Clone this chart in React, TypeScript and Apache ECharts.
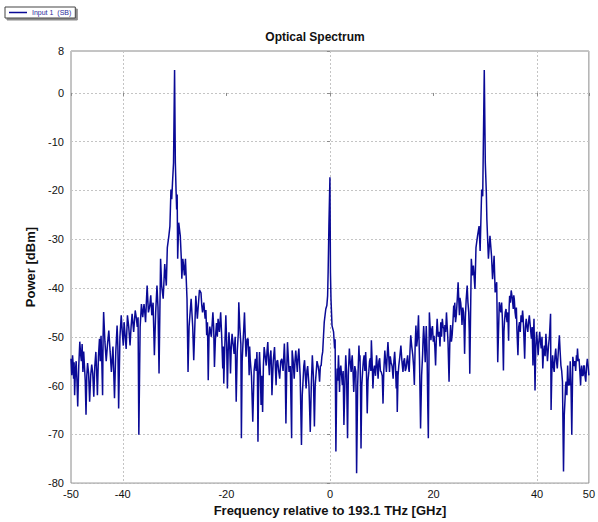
import React, { useEffect, useRef } from "react";
import * as echarts from "echarts";

// Frequency [GHz] relative to 193.1 THz, power [dBm]
const segFarLeft: [number, number][] = [
  [-50, -54.5], [-49.85, -57.9], [-49.7, -53.8], [-49.6, -55.4], [-49.5, -58.6], [-49.4, -55.2],
  [-49.3, -62], [-49.15, -57], [-49, -55], [-48.85, -59], [-48.7, -64.3], [-48.5, -56],
  [-48.3, -51], [-48.15, -53.5], [-48, -55], [-47.85, -51.5], [-47.7, -57.2], [-47.55, -53],
  [-47.4, -56], [-47.25, -59], [-47.1, -66], [-46.95, -58], [-46.8, -55.4], [-46.6, -57.5],
  [-46.4, -63.3], [-46.2, -58], [-46, -55.7], [-45.8, -57.5], [-45.6, -62.3], [-45.4, -56],
  [-45.2, -53.1], [-45.05, -57], [-44.9, -62], [-44.7, -54], [-44.5, -50.4], [-44.35, -55],
  [-44.2, -49.8], [-44.05, -55], [-43.9, -62], [-43.8, -50], [-43.7, -44.9], [-43.45, -51],
  [-43.2, -55], [-42.95, -51.5], [-42.7, -48.7], [-42.45, -53], [-42.2, -57.2], [-41.9, -52],
  [-41.6, -62.6], [-41.35, -53], [-41.1, -47.7], [-40.95, -52], [-40.8, -64.7], [-40.55, -50],
  [-40.3, -45.6], [-40.1, -49], [-39.9, -51.8], [-39.75, -47], [-39.6, -49], [-39.35, -52.5],
  [-39.1, -45.6], [-38.85, -48], [-38.6, -51.8], [-38.4, -48], [-38.2, -45.3], [-37.9, -49],
  [-37.6, -44.6], [-37.4, -46], [-37.2, -48], [-37.05, -46], [-36.9, -70.1], [-36.65, -48],
  [-36.4, -43.3], [-36.15, -46], [-35.9, -43.3], [-35.75, -45], [-35.6, -47], [-35.45, -43],
  [-35.3, -39.5], [-35.05, -45], [-34.8, -43.7], [-34.6, -41.5], [-34.4, -45.6], [-34.15, -43],
  [-33.9, -53.8], [-33.65, -45], [-33.4, -39.5], [-33.2, -44], [-33.0, -57.5],
];

const segLeftPeak: [number, number][] = [
  [-32.7, -34], [-32.5, -39.5], [-32.2, -42.2], [-31.9, -35.1], [-31.6, -39.5], [-31.4, -31.7],
  [-31.1, -29.3], [-30.9, -27.3], [-30.7, -19.8], [-30.55, -21.8], [-30.4, -18.4], [-30.2, -14.3],
  [-30.0, 4.7], [-29.85, -14.3], [-29.7, -20.5], [-29.6, -23.9], [-29.5, -20.8], [-29.4, -34],
  [-29.2, -26.6], [-28.9, -29.3], [-28.7, -34], [-28.6, -38.1], [-28.4, -34], [-28.1, -37.4],
  [-27.9, -34], [-27.6, -42.2], [-27.4, -57.2], [-27.2, -47.9], [-26.8, -42.2], [-26.5, -47.9],
  [-26.3, -54.8], [-25.9, -41.6], [-25.6, -46.3], [-25.2, -40.4], [-24.9, -41], [-24.75, -43.5],
  [-24.6, -45], [-24.35, -43], [-24.1, -46.3], [-23.95, -44.5], [-23.8, -49.7], [-23.65, -47],
  [-23.5, -58.9], [-23.35, -50], [-23.2, -47.9], [-22.9, -50], [-22.6, -45], [-22.45, -48],
  [-22.3, -56.2], [-22.1, -50], [-21.9, -47.2], [-21.75, -50], [-21.6, -46.3], [-21.35, -49],
  [-21.1, -45], [-20.9, -50], [-20.7, -56.5], [-20.6, -52], [-20.5, -59.6], [-20.3, -52],
  [-20.1, -45.6], [-19.95, -51], [-19.8, -60.6], [-19.65, -53], [-19.5, -49.1], [-19.35, -52],
  [-19.2, -57.5], [-19.05, -52], [-18.9, -49.4], [-18.7, -51.5], [-18.5, -53.5], [-18.3, -50],
  [-18.1, -63.3], [-17.9, -53], [-17.7, -49.4], [-17.6, -42.9], [-17.4, -48], [-17.2, -51.5],
  [-17.1, -70.8], [-16.95, -55], [-16.8, -51.5], [-16.65, -48.5], [-16.5, -45], [-16.35, -50],
  [-16.2, -54.1], [-16.0, -50.5],
];

const segCenter: [number, number][] = [
  [-15.8, -50.4], [-15.7, -54], [-15.6, -57.9], [-15.5, -52], [-15.4, -54.5], [-15.15, -58],
  [-14.9, -67.4], [-14.65, -57], [-14.4, -54.5], [-14.25, -57], [-14.1, -53.1], [-14.0, -58],
  [-13.9, -71.5], [-13.75, -58], [-13.6, -53.1], [-13.45, -57], [-13.3, -64], [-13.15, -58],
  [-13, -65.4], [-12.85, -56], [-12.7, -52.1], [-12.5, -54], [-12.3, -55.9], [-12.15, -53],
  [-12, -51.1], [-11.85, -55], [-11.7, -57.9], [-11.55, -54], [-11.4, -52.8], [-11.3, -56],
  [-11.2, -62], [-10.95, -55], [-10.7, -52.1], [-10.55, -56], [-10.4, -59.9], [-10.25, -55],
  [-10.1, -54.8], [-9.9, -57], [-9.7, -58.6], [-9.5, -55], [-9.3, -54.5], [-9.05, -57],
  [-8.8, -51.4], [-8.65, -56], [-8.5, -67.8], [-8.35, -57], [-8.2, -51.1], [-8.05, -54],
  [-7.9, -57.2], [-7.65, -56], [-7.4, -70.8], [-7.3, -52.8], [-7.1, -55], [-6.9, -58.6],
  [-6.75, -55], [-6.6, -52.8], [-6.45, -55], [-6.3, -57.2], [-6.15, -54], [-6.0, -52.4],
  [-5.75, -58], [-5.5, -72.2], [-5.35, -62], [-5.2, -59.2], [-5.05, -56], [-4.9, -54.8],
  [-4.75, -58], [-4.6, -60.6], [-4.45, -57], [-4.3, -56], [-4.05, -60], [-3.8, -69.5],
  [-3.6, -60], [-3.4, -53.8], [-3.2, -58], [-3.0, -68.4], [-2.85, -60], [-2.7, -57.9],
  [-2.5, -55], [-2.3, -55.9], [-2.15, -57], [-2.0, -59.2], [-1.85, -56], [-1.7, -55.9],
  [-1.55, -54], [-1.4, -53.1], [-1.25, -50], [-1.1, -47], [-0.8, -44.3], [-0.6, -43.6],
  [-0.45, -41.6], [-0.35, -36.8], [-0.2, -27.3], [0, -17.3], [0.1, -36.8], [0.2, -42.2],
  [0.4, -47.7], [0.7, -49], [0.9, -52.4], [1.0, -50.5], [1.15, -73.5], [1.3, -60],
  [1.4, -56.5], [1.5, -59], [1.65, -53.8], [1.75, -57], [1.85, -61.3], [1.95, -57],
  [2.1, -55.9], [2.25, -58], [2.4, -59.9], [2.55, -57], [2.7, -68.1], [2.9, -59],
  [3.05, -53.8], [3.2, -57], [3.4, -70.8], [3.55, -58], [3.75, -52.4], [3.9, -55],
  [4.1, -57.2], [4.2, -55], [4.3, -53.8], [4.45, -57], [4.6, -61.3], [4.8, -56],
  [5.0, -57.2], [5.15, -78], [5.35, -60], [5.6, -51.8], [5.7, -55], [5.8, -53.8],
  [5.9, -60], [6.0, -72.9], [6.15, -60], [6.3, -57.2], [6.45, -55], [6.6, -53.8],
  [6.75, -57], [6.9, -53.1], [7.05, -57], [7.2, -65.7], [7.35, -59], [7.5, -57.2],
  [7.65, -55], [7.8, -54.4], [7.9, -57], [8.0, -50.7], [8.15, -55], [8.3, -60.6],
  [8.45, -57], [8.6, -55.9], [8.8, -58], [9.0, -53.8], [9.15, -56], [9.3, -58.6],
  [9.45, -55], [9.6, -54.4], [9.75, -57], [9.9, -57.2], [10.1, -58], [10.25, -63.7],
  [10.4, -57], [10.6, -52.8], [10.75, -55], [10.9, -57.2], [11.05, -54], [11.2, -51.1],
  [11.35, -54], [11.5, -57.2], [11.65, -54], [11.8, -55.2], [12.0, -56], [12.2, -58.6],
  [12.35, -55], [12.5, -53.1], [12.65, -56], [12.8, -60.6], [12.9, -57], [13.0, -65.4],
  [13.15, -58], [13.3, -55.9], [13.5, -54], [13.7, -51.8], [13.9, -55], [14.1, -57.2],
  [14.25, -55], [14.4, -54.4], [14.55, -57], [14.7, -56.5], [14.85, -55], [15.0, -53.8],
  [15.15, -56], [15.3, -57.2], [15.45, -53], [15.6, -49.7], [15.8, -52], [16.0, -53.8],
  [16.15, -56], [16.3, -59.9], [16.45, -52], [16.6, -47.7], [16.75, -52], [16.9, -50.4],
  [17.0, -48], [17.1, -45.6], [17.3, -55],
];

const segRightPeak: [number, number][] = [
  [17.5, -68.8], [17.7, -58], [17.9, -53.5], [18.0, -50], [18.1, -47.8], [18.25, -51],
  [18.4, -55.2], [18.5, -51], [18.6, -47.8], [18.75, -53], [18.9, -64.7], [19.0, -70.8],
  [19.2, -45], [19.35, -48], [19.5, -50.7], [19.65, -48.5], [19.8, -47.8], [19.95, -51],
  [20.1, -49.8], [20.25, -52], [20.4, -55.9], [20.55, -50], [20.7, -46.3], [20.9, -50],
  [21.1, -49], [21.25, -52], [21.4, -47], [21.55, -50], [21.7, -46.3], [21.85, -48],
  [22.0, -48.3], [22.1, -51], [22.2, -47.6], [22.35, -49], [22.5, -45], [22.65, -48],
  [22.8, -51.1], [23.0, -59.2], [23.15, -51], [23.3, -47.6], [23.45, -51], [23.6, -49.6],
  [23.75, -47], [23.9, -43.6], [24.0, -46], [24.1, -43], [24.25, -47], [24.4, -45.6],
  [24.6, -42], [24.75, -38.8], [24.9, -43], [25.0, -45.6], [25.1, -42], [25.25, -43],
  [25.4, -45], [25.5, -47.6], [25.65, -44], [25.8, -45], [25.9, -48], [26.0, -53.5],
  [26.15, -46], [26.3, -42.5], [26.5, -39.5], [26.65, -43], [26.8, -45], [26.9, -49],
  [27.0, -57.6], [27.3, -34], [27.5, -37.4], [27.7, -35.4], [28.0, -40.2], [28.2, -31.7],
  [28.5, -29.3], [28.8, -27.3], [29.0, -32.4], [29.3, -19.8], [29.5, -21.2], [29.8, 4.7],
  [30.0, -14.3], [30.2, -20.5], [30.3, -25.9], [30.6, -34], [30.9, -29.3], [31.2, -33.4],
  [31.4, -38.2], [31.7, -33.4], [31.9, -40.9], [32.2, -38.8], [32.4, -55.2], [32.7, -42.9],
];

const segFarRight: [number, number][] = [
  [33.0, -45], [33.15, -43], [33.3, -46.3], [33.5, -56.9], [33.6, -49], [33.7, -47],
  [33.85, -45], [34.0, -44.3], [34.1, -46], [34.2, -47], [34.35, -45], [34.5, -50.8],
  [34.6, -44], [34.7, -41.6], [34.85, -43], [35.0, -40.5], [35.2, -42], [35.4, -44.3],
  [35.5, -41.5], [35.6, -42.3], [35.75, -45], [35.9, -46.3], [36.0, -44], [36.1, -48.4],
  [36.3, -53.8], [36.45, -48], [36.6, -47], [36.75, -49], [36.9, -45.6], [37.05, -47],
  [37.2, -44.6], [37.3, -46], [37.4, -48.4], [37.6, -54.5], [37.75, -48], [37.9, -46.3],
  [38.05, -48], [38.2, -49], [38.35, -47], [38.5, -45.6], [38.7, -48], [38.9, -50.4],
  [39.05, -48], [39.2, -55.9], [39.3, -50], [39.4, -46.3], [39.6, -61], [39.75, -52],
  [39.9, -49], [40.05, -51], [40.2, -53.8], [40.35, -51], [40.5, -49], [40.65, -51],
  [40.8, -52.4], [40.95, -50], [41.1, -56.5], [41.25, -53], [41.4, -51.8], [41.55, -54],
  [41.7, -49.4], [41.85, -52], [42.0, -55], [42.2, -52], [42.4, -49.7], [42.6, -45.3],
  [42.7, -65], [42.85, -57], [43.0, -53.8], [43.15, -56], [43.3, -57.2], [43.45, -54],
  [43.6, -52.4], [43.75, -55], [43.9, -56.5], [44.1, -53], [44.3, -49.7], [44.45, -53],
  [44.6, -55.9], [44.75, -57], [44.9, -59.2], [45.1, -77.6], [45.25, -66], [45.4, -62.7],
  [45.5, -60], [45.6, -59.2], [45.75, -62], [45.9, -55.9], [46.05, -60], [46.2, -58.6],
  [46.3, -60], [46.4, -55], [46.55, -60], [46.7, -70.1], [46.9, -54.1], [47.1, -56],
  [47.3, -55], [47.45, -57], [47.6, -53.8], [47.7, -55], [47.8, -52.4], [47.95, -55],
  [48.1, -54.5], [48.25, -57], [48.4, -60], [48.5, -57], [48.6, -55.9], [48.75, -58],
  [48.9, -57.9], [49.0, -56], [49.1, -55.9], [49.25, -58], [49.4, -59.2], [49.55, -56],
  [49.7, -54.5], [49.85, -56], [50, -57.9],
];

const xLabelValues = [-50, -40, -20, 0, 20, 40, 50];
const yTopLabel = "8";

const FONT = "'Liberation Sans', Arial, sans-serif";

export default function App() {
  const ref = useRef<HTMLDivElement>(null);

  useEffect(() => {
    if (!ref.current) return;
    const chart = echarts.init(ref.current, null, { renderer: "svg" });
    const data = [
      ...segFarLeft,
      ...segLeftPeak,
      ...segCenter,
      ...segRightPeak,
      ...segFarRight,
    ];
    chart.setOption({
      animation: false,
      backgroundColor: "#ffffff",
      textStyle: { fontFamily: FONT },
      title: {
        text: "Optical Spectrum",
        left: 315,
        top: 31,
        padding: 0,
        textAlign: "center",
        textStyle: { fontSize: 12, fontWeight: "bold", color: "#111", fontFamily: FONT },
      },
      legend: {
        left: 5,
        top: 7,
        orient: "horizontal",
        icon: "rect",
        itemWidth: 18,
        itemHeight: 1.5,
        itemGap: 4,
        padding: [2, 4, 2, 4],
        backgroundColor: "#ffffff",
        borderColor: "#444",
        borderWidth: 1,
        shadowColor: "rgba(0,0,0,0.45)",
        shadowOffsetX: 2,
        shadowOffsetY: 2,
        shadowBlur: 0,
        textStyle: { fontSize: 7, color: "#2a2a9a", fontFamily: FONT },
        data: ["Input 1  (SB)"],
      },
      grid: {
        left: 71,
        right: 3,
        top: 51,
        bottom: 38,
        show: true,
        borderColor: "#8a8a8a",
        borderWidth: 1,
        backgroundColor: "transparent",
      },
      xAxis: {
        type: "value",
        min: -50,
        max: 50,
        interval: 10,
        name: "Frequency relative to 193.1 THz [GHz]",
        nameLocation: "middle",
        nameGap: 20,
        nameTextStyle: { fontSize: 13, fontWeight: "bold", color: "#111", fontFamily: FONT },
        axisLine: { show: false },
        axisTick: {
          show: true,
          length: 3,
          lineStyle: { color: "#8a8a8a" },
          customValues: xLabelValues,
        },
        axisLabel: {
          fontSize: 11,
          color: "#111",
          margin: 5,
          customValues: xLabelValues,
          formatter: (v: number) => (xLabelValues.includes(v) ? String(v) : ""),
        },
        splitLine: {
          show: true,
          lineStyle: {
            color: ["rgba(0,0,0,0)", "#c4c4c4"],
            type: [2, 2],
            width: 1,
          },
        },
      },
      yAxis: {
        type: "value",
        min: -80,
        max: 8.6,
        interval: 10,
        name: "Power [dBm]",
        nameLocation: "middle",
        nameGap: 33,
        nameTextStyle: { fontSize: 13, fontWeight: "bold", color: "#111", fontFamily: FONT },
        axisLine: { show: false },
        axisTick: { show: true, length: 3, lineStyle: { color: "#8a8a8a" } },
        axisLabel: {
          fontSize: 11,
          color: "#111",
          margin: 7,
          formatter: (v: number) => (v > 5 ? yTopLabel : String(Math.round(v))),
        },
        splitLine: {
          show: true,
          lineStyle: { color: "#c4c4c4", type: [2, 2], width: 1 },
        },
      },
      series: [
        {
          name: "Input 1  (SB)",
          type: "line",
          data,
          symbol: "none",
          showSymbol: false,
          lineStyle: { color: "#0a0a96", width: 1.5 },
          itemStyle: { color: "#0a0a96" },
        },
      ],
    });
    return () => chart.dispose();
  }, []);

  return (
    <div
      ref={ref}
      style={{ position: "absolute", left: 0, top: 0, width: 598, height: 522 }}
    />
  );
}
